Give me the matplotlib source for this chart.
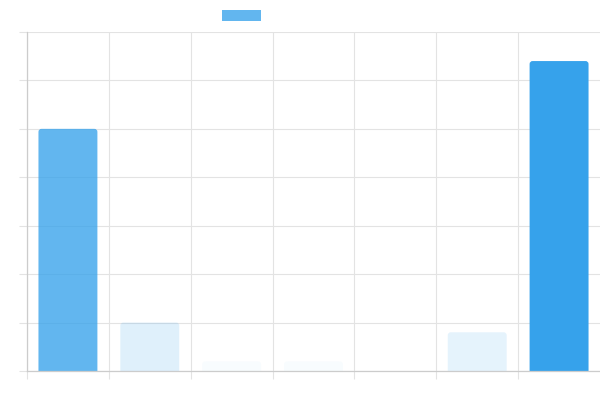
import matplotlib
matplotlib.use("Agg")
import matplotlib.pyplot as plt
from matplotlib.patches import Rectangle, FancyBboxPatch
import numpy as np

categories = ["A", "B", "C", "D", "E", "F", "G"]
values = [5.0, 1.0, 0.2, 0.2, 0.0, 0.8, 6.4]
y_ticks = [0, 1, 2, 3, 4, 5, 6, 7]

base = np.array([54, 162, 235]) / 255.0
vmax = max(values)
colors = [(base[0], base[1], base[2], v / vmax) for v in values]

fig = plt.figure(figsize=(6, 4), dpi=100)
ax = fig.add_axes([27 / 600, 29 / 400, 573 / 600, 339 / 400])

ax.set_xlim(-0.5, len(categories) - 0.5)
ax.set_ylim(0, 7)

x = np.arange(len(categories))
bars = ax.bar(x, values, width=0.72, color=colors, zorder=3, linewidth=0)

# rounded top corners (~3 px radius)
px_x = 573 / 7.0
px_y = 339 / 7.0
r = 3 / px_x
aspect = px_x / px_y
for b in bars:
    h = b.get_height()
    if h <= 0:
        b.set_visible(False)
        continue
    extra = 0.15
    p = FancyBboxPatch((b.get_x(), -extra), b.get_width(), h + extra,
                       boxstyle=f"round,pad=0,rounding_size={r}",
                       mutation_aspect=aspect,
                       facecolor=b.get_facecolor(), edgecolor="none",
                       zorder=3, clip_on=True)
    ax.add_patch(p)
    b.set_visible(False)

ax.set_yticks(y_ticks)
ax.set_yticklabels([])
ax.set_xticks(np.arange(len(categories)) - 0.5)
ax.set_xticklabels([])

grid_c = "#e3e3e3"
ax.grid(True, color=grid_c, linewidth=0.8, zorder=0)
ax.set_axisbelow(True)
ax.tick_params(axis="both", length=6, color=grid_c, width=0.8)
for s in ["top", "right"]:
    ax.spines[s].set_visible(False)
for s in ["left", "bottom"]:
    ax.spines[s].set_color("#cccccc")
    ax.spines[s].set_linewidth(0.9)
    ax.spines[s].set_zorder(4)

# legend swatch (no label text)
fig.patches.append(Rectangle((222 / 600, (400 - 21) / 400), 39 / 600, 11 / 400,
                             transform=fig.transFigure, facecolor=colors[0],
                             edgecolor="none"))

fig.savefig("out.png", dpi=100)
